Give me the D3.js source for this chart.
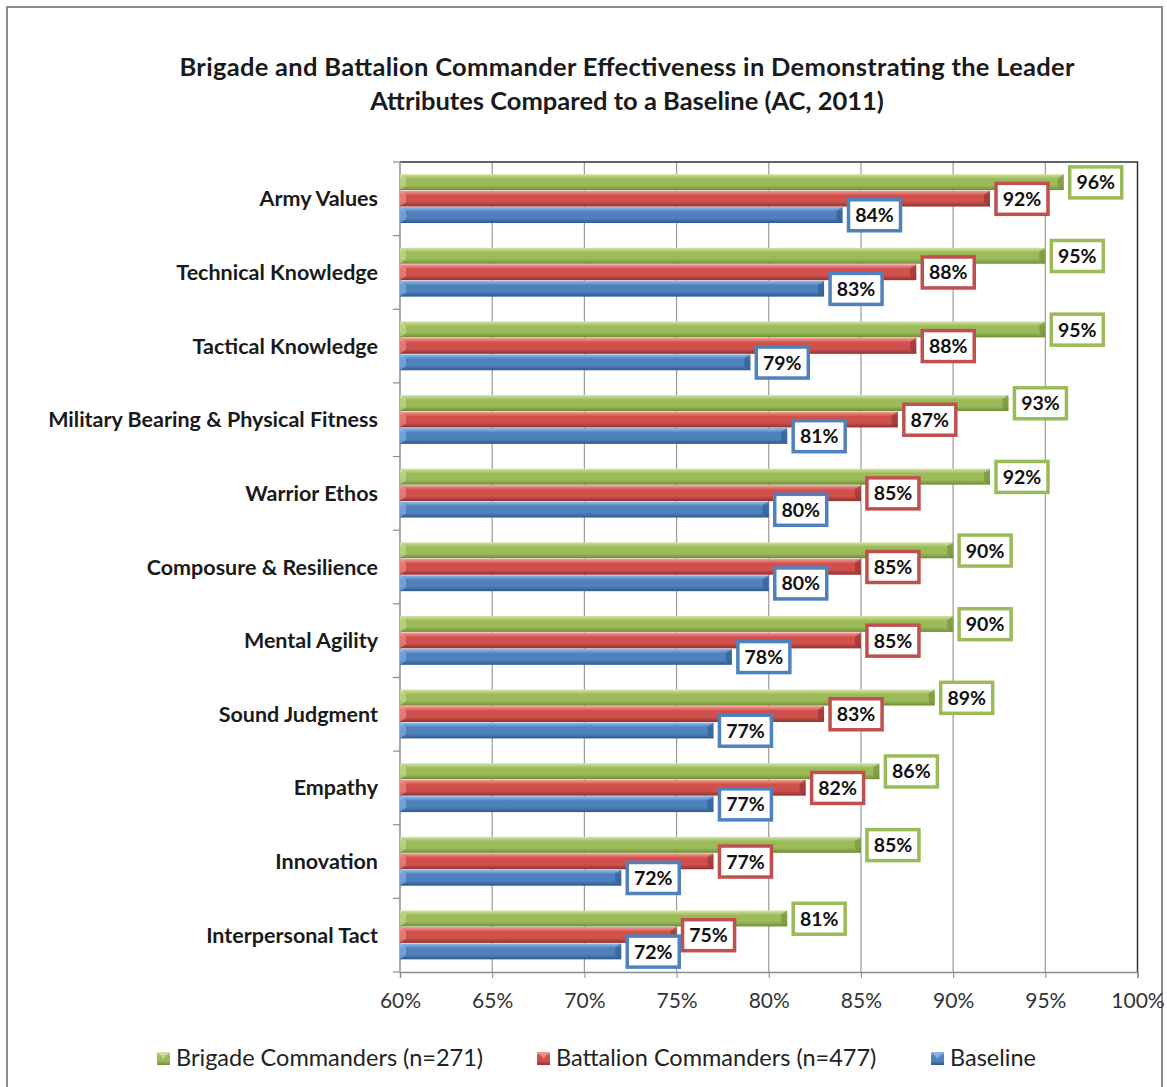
<!DOCTYPE html>
<html><head><meta charset="utf-8">
<script src="https://cdn.jsdelivr.net/npm/d3@7"></script>
<style>body{margin:0;background:#fff;}svg{display:block;font-family:Lato,"Open Sans",sans-serif;}</style>
</head><body>
<svg id="c" width="1167" height="1087"></svg>
<script>
const categories = ["Army Values","Technical Knowledge","Tactical Knowledge","Military Bearing & Physical Fitness","Warrior Ethos","Composure & Resilience","Mental Agility","Sound Judgment","Empathy","Innovation","Interpersonal Tact"];
const brigade = [96,95,95,93,92,90,90,89,86,85,81];
const battalion = [92,88,88,87,85,85,85,83,82,77,75];
const baseline = [84,83,79,81,80,80,78,77,77,72,72];
const seriesNames = ["Brigade Commanders (n=271)","Battalion Commanders (n=477)","Baseline"];
const tickValues = [60,65,70,75,80,85,90,95,100];

(function(){
const colors = ["#9bbb59","#c0504d","#4f81bd"];
const grads = [["#d4e3a5","#9bbb59","#6f8c38"],["#f5a09d","#d0504c","#8e3230"],["#95bde9","#4f81bd","#2d5a8e"]];
const seriesData = [brigade, battalion, baseline];

const svg = d3.select("#c");
const defs = svg.append("defs");
grads.forEach((g,i)=>{
  const lg = defs.append("linearGradient").attr("id","g"+i).attr("x1",0).attr("y1",0).attr("x2",0).attr("y2",1);
  lg.append("stop").attr("offset","0%").attr("stop-color",g[0]);
  lg.append("stop").attr("offset","30%").attr("stop-color",g[1]);
  lg.append("stop").attr("offset","70%").attr("stop-color",g[1]);
  lg.append("stop").attr("offset","100%").attr("stop-color",g[2]);
});

svg.append("rect").attr("x",7).attr("y",7).attr("width",1155).attr("height",1095).attr("fill","#fff").attr("stroke","#8c8c8c").attr("stroke-width",2);

const title = svg.append("text").attr("text-anchor","middle").attr("font-weight","bold").attr("font-size",25.5).attr("fill","#1a1a1a");
title.append("tspan").attr("x",627).attr("y",76).attr("textLength",895).text("Brigade and Battalion Commander  Effectiveness in Demonstrating the Leader");
title.append("tspan").attr("x",627).attr("y",110).text("Attributes Compared to a Baseline (AC, 2011)");

const pL = 400, pR = 1137.5, pT = 162, pB = 972;
const x = d3.scaleLinear().domain([60,100]).range([pL,pR]);
const y = d3.scaleBand().domain(categories).range([pT,pB]).paddingInner(0.33).paddingOuter(0.165);
const ys = d3.scaleBand().domain([0,1,2]).range([0,y.bandwidth()]);

svg.append("g").selectAll("line").data(tickValues.slice(1,-1)).join("line")
  .attr("x1",d=>x(d)).attr("x2",d=>x(d)).attr("y1",pT).attr("y2",pB)
  .attr("stroke","#9a9a9a").attr("stroke-width",1.2);
svg.append("path").attr("d",`M${pL},${pT}H${pR}V${pB}`).attr("fill","none").attr("stroke","#333").attr("stroke-width",1.5);

const xAxis = svg.append("g").attr("transform",`translate(0,${pB})`)
  .call(d3.axisBottom(x).tickValues(tickValues).tickFormat(d=>d+"%").tickSize(6).tickPadding(15));
xAxis.select(".domain").attr("stroke","#8c8c8c").attr("stroke-width",1.5);
xAxis.selectAll(".tick line").attr("stroke","#8c8c8c");
xAxis.selectAll("text").attr("font-size",21).attr("fill","#333").attr("font-family","Lato,sans-serif");

const boundaries = d3.range(categories.length+1).map(i=>pT+i*(pB-pT)/categories.length);
svg.append("line").attr("x1",pL).attr("x2",pL).attr("y1",pT).attr("y2",pB).attr("stroke","#8c8c8c").attr("stroke-width",1.5);
svg.append("g").selectAll("line").data(boundaries).join("line")
  .attr("x1",pL-7).attr("x2",pL).attr("y1",d=>d).attr("y2",d=>d).attr("stroke","#8c8c8c").attr("stroke-width",1.2);
svg.append("g").selectAll("text").data(categories).join("text")
  .attr("x",378).attr("y",d=>y(d)+y.bandwidth()/2).attr("dy","0.35em")
  .attr("text-anchor","end").attr("font-weight","bold").attr("font-size",21.5).attr("fill","#1a1a1a").text(d=>d);

seriesData.forEach((vals,si)=>{
  const g = svg.append("g");
  g.selectAll("rect").data(vals).join("rect")
    .attr("x",pL).attr("y",(d,i)=>y(categories[i])+ys(si))
    .attr("width",d=>x(d)-pL).attr("height",ys.bandwidth()-0.5)
    .attr("fill",`url(#g${si})`);
  g.selectAll("path.r").data(vals).join("path").attr("class","r")
    .attr("d",(d,i)=>{const yy=y(categories[i])+ys(si), h=ys.bandwidth()-0.5, xx=x(d);
      return `M${xx},${yy}L${xx-6},${yy+4}L${xx-6},${yy+h-4}L${xx},${yy+h}Z`;})
    .attr("fill",grads[si][2]).attr("opacity",0.6);
  g.selectAll("path.l").data(vals).join("path").attr("class","l")
    .attr("d",(d,i)=>{const yy=y(categories[i])+ys(si), h=ys.bandwidth()-0.5, xx=pL;
      return `M${xx},${yy}L${xx+6},${yy+4}L${xx+6},${yy+h-4}L${xx},${yy+h}Z`;})
    .attr("fill",grads[si][0]).attr("opacity",0.5);
});
seriesData.forEach((vals,si)=>{
  const lab = svg.append("g").selectAll("g").data(vals).join("g")
    .attr("transform",(d,i)=>`translate(${x(d)+6},${y(categories[i])+ys(si)+ys.bandwidth()/2})`);
  lab.append("rect").attr("x",0).attr("y",-15.5).attr("width",52).attr("height",31)
    .attr("fill","#fff").attr("stroke",colors[si]).attr("stroke-width",3.5);
  lab.append("text").attr("x",26).attr("y",0).attr("dy","0.36em").attr("text-anchor","middle")
    .attr("font-weight","bold").attr("font-size",19.5).attr("fill","#111").text(d=>d+"%");
});

const legX = [157,537,931];
const leg = svg.append("g").selectAll("g").data(seriesNames).join("g").attr("transform",(d,i)=>`translate(${legX[i]},1058)`);
leg.append("rect").attr("x",0).attr("y",-6).attr("width",13).attr("height",13).attr("fill",(d,i)=>`url(#g${i})`);
leg.append("path").attr("d","M2,-5L11,-5L6.5,1Z").attr("fill",(d,i)=>grads[i][0]).attr("opacity",0.7);
leg.append("text").attr("x",19).attr("y",0).attr("dy","0.35em").attr("font-size",23.5).attr("fill","#222").text(d=>d);
})();
</script>
</body></html>
